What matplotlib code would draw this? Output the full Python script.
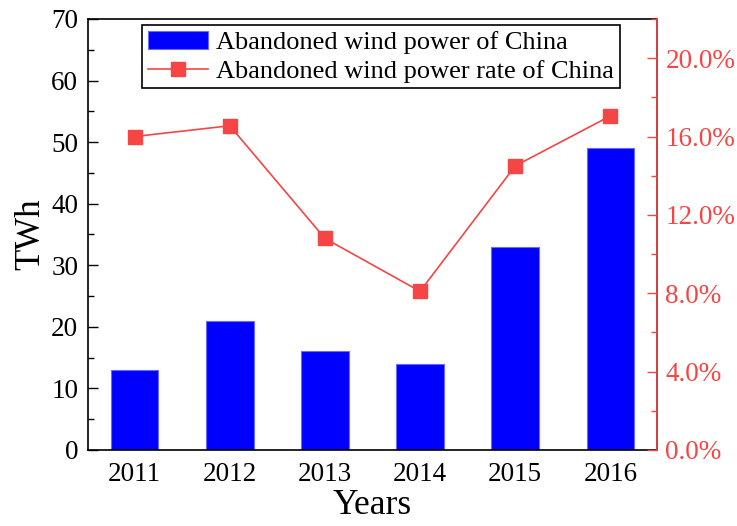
import matplotlib.pyplot as plt
from matplotlib.ticker import MultipleLocator, FuncFormatter

years = ['2011', '2012', '2013', '2014', '2015', '2016']
abandoned_twh = [13, 21, 16, 14, 33, 49]
abandoned_rate = [16.0, 16.55, 10.8, 8.1, 14.5, 17.05]

bar_color = '#0000FF'
line_color = '#F54545'

plt.rcParams['font.family'] = ['Liberation Serif', 'DejaVu Serif']

fig = plt.figure(figsize=(7.37, 5.26), dpi=100)
ax = fig.add_axes([0.1194, 0.1445, 0.772, 0.8194])
x = list(range(len(years)))

bars = ax.bar(x, abandoned_twh, width=0.5, color=bar_color, edgecolor='#6A6AFF',
              linewidth=0.8, label='Abandoned wind power of China', zorder=2)
ax.set_xlim(-0.49, 5.49)
ax.set_ylim(0, 70)
ax.set_xticks(x)
ax.set_xticklabels(years)
ax.yaxis.set_major_locator(MultipleLocator(10))
ax.yaxis.set_minor_locator(MultipleLocator(5))
ax.tick_params(axis='x', length=0, labelsize=19.5, pad=9)
ax.tick_params(axis='y', which='major', direction='in', length=7, labelsize=19.5, width=1, pad=7)
ax.tick_params(axis='y', which='minor', direction='in', length=4, width=1)
ax.set_ylabel('TWh', fontsize=25, labelpad=3)
ax.set_xlabel('Years', fontsize=25.5, labelpad=1)
for s in ax.spines.values():
    s.set_linewidth(1.2)

ax2 = ax.twinx()
line, = ax2.plot(x, abandoned_rate, color=line_color, lw=1.2, marker='s', markersize=10,
                 label='Abandoned wind power rate of China', zorder=3)
ax2.set_ylim(0, 22)
ax2.yaxis.set_major_locator(MultipleLocator(4))
ax2.yaxis.set_minor_locator(MultipleLocator(2))
ax2.yaxis.set_major_formatter(FuncFormatter(lambda v, p: '%.1f%%' % v))
ax2.tick_params(axis='y', which='major', direction='in', length=7, labelsize=19.5,
                colors=line_color, width=1, pad=6)
ax2.tick_params(axis='y', which='minor', direction='in', length=4, colors=line_color, width=1)
ax2.spines['right'].set_color(line_color)
ax2.spines['right'].set_linewidth(1.2)
for k in ['left', 'top', 'bottom']:
    ax2.spines[k].set_visible(False)

leg = ax2.legend([bars, line], [bars.get_label(), line.get_label()],
                 loc='upper center', bbox_to_anchor=(0.515, 0.985), fontsize=19,
                 frameon=True, fancybox=False, edgecolor='black', framealpha=1,
                 borderpad=0.2, labelspacing=0.2, handlelength=2.3, handletextpad=0.3,
                 borderaxespad=0)
leg.get_frame().set_linewidth(1.2)

fig.savefig('out.png', dpi=100, facecolor='white')
